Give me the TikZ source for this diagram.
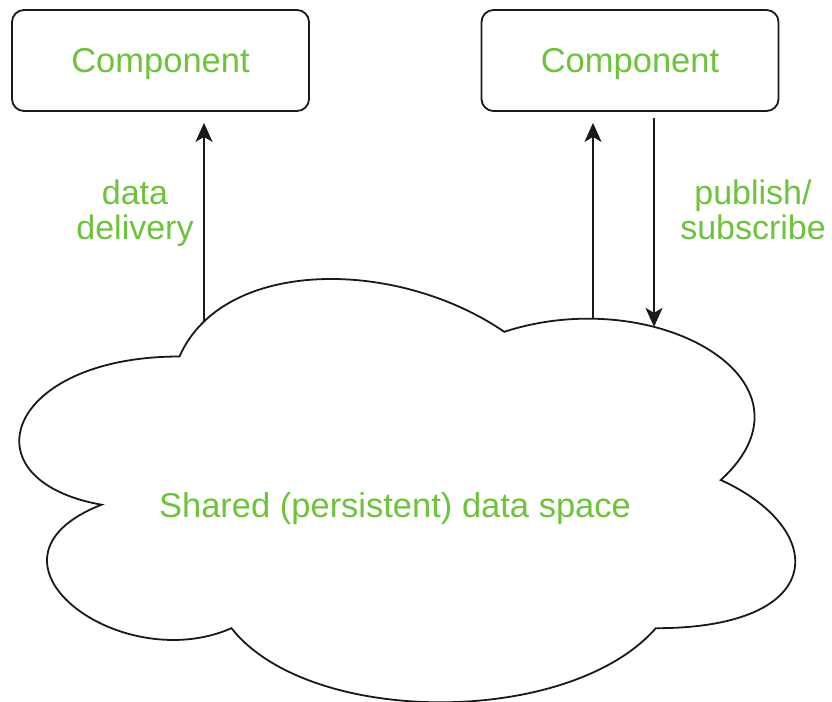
\documentclass[tikz,border=0pt]{standalone}
\usepackage{fontspec}
\setmainfont{Liberation Sans}
\usetikzlibrary{arrows.meta,intersections,calc}

\definecolor{lblgreen}{RGB}{108,196,58}
\definecolor{linegray}{RGB}{25,25,25}

\tikzset{
  comp/.style={draw=linegray, line width=1.8pt, rounded corners=12pt,
    minimum width=297pt, minimum height=101pt, inner sep=0pt,
    text height=25pt, text depth=0pt, text=lblgreen,
    font=\fontsize{34.5}{35}\selectfont},
  lbl/.style={text=lblgreen, align=center, inner sep=0pt,
    font=\fontsize{34}{35}\selectfont},
  conn/.style={draw=linegray, line width=1.8pt,
    -{Stealth[length=19pt,width=17pt,inset=5pt]}},
  cloudline/.style={draw=linegray, line width=1.8pt, fill=white}
}

\begin{document}
\begin{tikzpicture}[x=1pt,y=-1pt]
  \useasboundingbox (0,0) rectangle (832,701);
  \fill[white] (0,0) rectangle (832,701);

  % shared data space (cloud outline)
  \path[cloudline, name path=cloud]
    (179.5,356.5)
    .. controls (6.3,356.5) and (-37,480) .. (101.56,504.7)
    .. controls (-37,559.04) and (118.88,677.6) .. (231.46,628.2)
    .. controls (309.4,727) and (569.2,727) .. (655.8,628.2)
    .. controls (829,628.2) and (829,529.4) .. (720.75,480)
    .. controls (829,381.2) and (655.8,282.4) .. (504.25,331.8)
    .. controls (396,257.7) and (222.8,257.7) .. (179.5,356.5)
    -- cycle;
  \node[lbl, anchor=base, font=\fontsize{34.5}{35}\selectfont] (space) at (395,517) {Shared (persistent) data space};

  % components
  \node[comp] (compL) at (160.5,60.5) {Component};
  \node[comp] (compR) at (630,60.5) {Component};

  % attachment points on the cloud
  \path[name path=vL] (204,150) -- (204,420);
  \path[name path=vU] (593,150) -- (593,420);
  \path[name path=vD] (654,150) -- (654,420);
  \path[name intersections={of=cloud and vL, by=cL}];
  \path[name intersections={of=cloud and vU, by=cU}];
  \path[name intersections={of=cloud and vD, by=cD}];

  % connectors
  \draw[conn, shorten >=11pt] (cL) -- (cL |- compL.south);
  \draw[conn, shorten >=11pt] (cU) -- (cU |- compR.south);
  \draw[conn, shorten <=6pt] (cD |- compR.south) -- (cD);

  % connector labels (base anchor sits on the last line)
  \node[lbl, anchor=base] (lblL) at (135,239) {data\\delivery};
  \node[lbl, anchor=base] (lblR) at (753,239) {publish/\\subscribe};
\end{tikzpicture}
\end{document}
